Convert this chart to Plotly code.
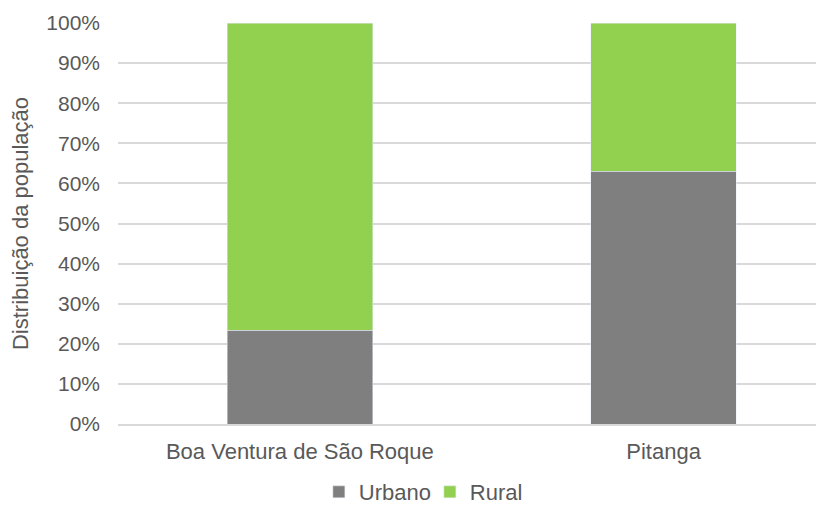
import plotly.graph_objects as go

categories = ["Boa Ventura de São Roque", "Pitanga"]
urbano = [0.234, 0.630]
rural = [0.766, 0.370]
tick_vals = [0, 0.1, 0.2, 0.3, 0.4, 0.5, 0.6, 0.7, 0.8, 0.9, 1.0]
tick_text = ["0%", "10%", "20%", "30%", "40%", "50%", "60%", "70%", "80%", "90%", "100%"]

font_family = "Liberation Sans, Arial, sans-serif"
txt_color = "#595959"
fs = 22

fig = go.Figure()
fig.add_trace(go.Bar(name="Urbano", x=categories, y=urbano, marker_color="#7f7f7f", width=0.4))
fig.add_trace(go.Bar(name="Rural", x=categories, y=rural, marker_color="#92d050", width=0.4))

# page body has an 8px margin, so the figure is offset by 8px right and down
fig.update_layout(
    barmode="stack",
    width=816, height=498,
    margin=dict(l=110, r=0, t=15, b=82, autoexpand=False),
    plot_bgcolor="white", paper_bgcolor="white",
    font=dict(family=font_family, size=fs, color=txt_color),
    legend=dict(orientation="h", x=0.517, xref="container", xanchor="center",
                y=0.028, yref="container", yanchor="middle",
                font=dict(size=fs, color=txt_color), traceorder="normal",
                itemwidth=30, entrywidth=66),
    showlegend=True,
)
fig.update_xaxes(range=[-0.5, 1.441], showgrid=False, showline=True, linecolor="#d9d9d9",
                 linewidth=1.5, ticks="", ticklabelstandoff=7, automargin=False,
                 tickfont=dict(size=fs, color=txt_color))
fig.update_yaxes(range=[0, 1.0], tickvals=tick_vals, ticktext=tick_text, showgrid=True,
                 gridcolor="#d9d9d9", gridwidth=1.5, zeroline=False, showline=False,
                 ticks="", ticklabelstandoff=17, automargin=False,
                 tickfont=dict(size=21, color=txt_color),
                 title=dict(text="Distribuição da população", font=dict(size=fs, color=txt_color),
                            standoff=11))

fig.write_html("out.html")
